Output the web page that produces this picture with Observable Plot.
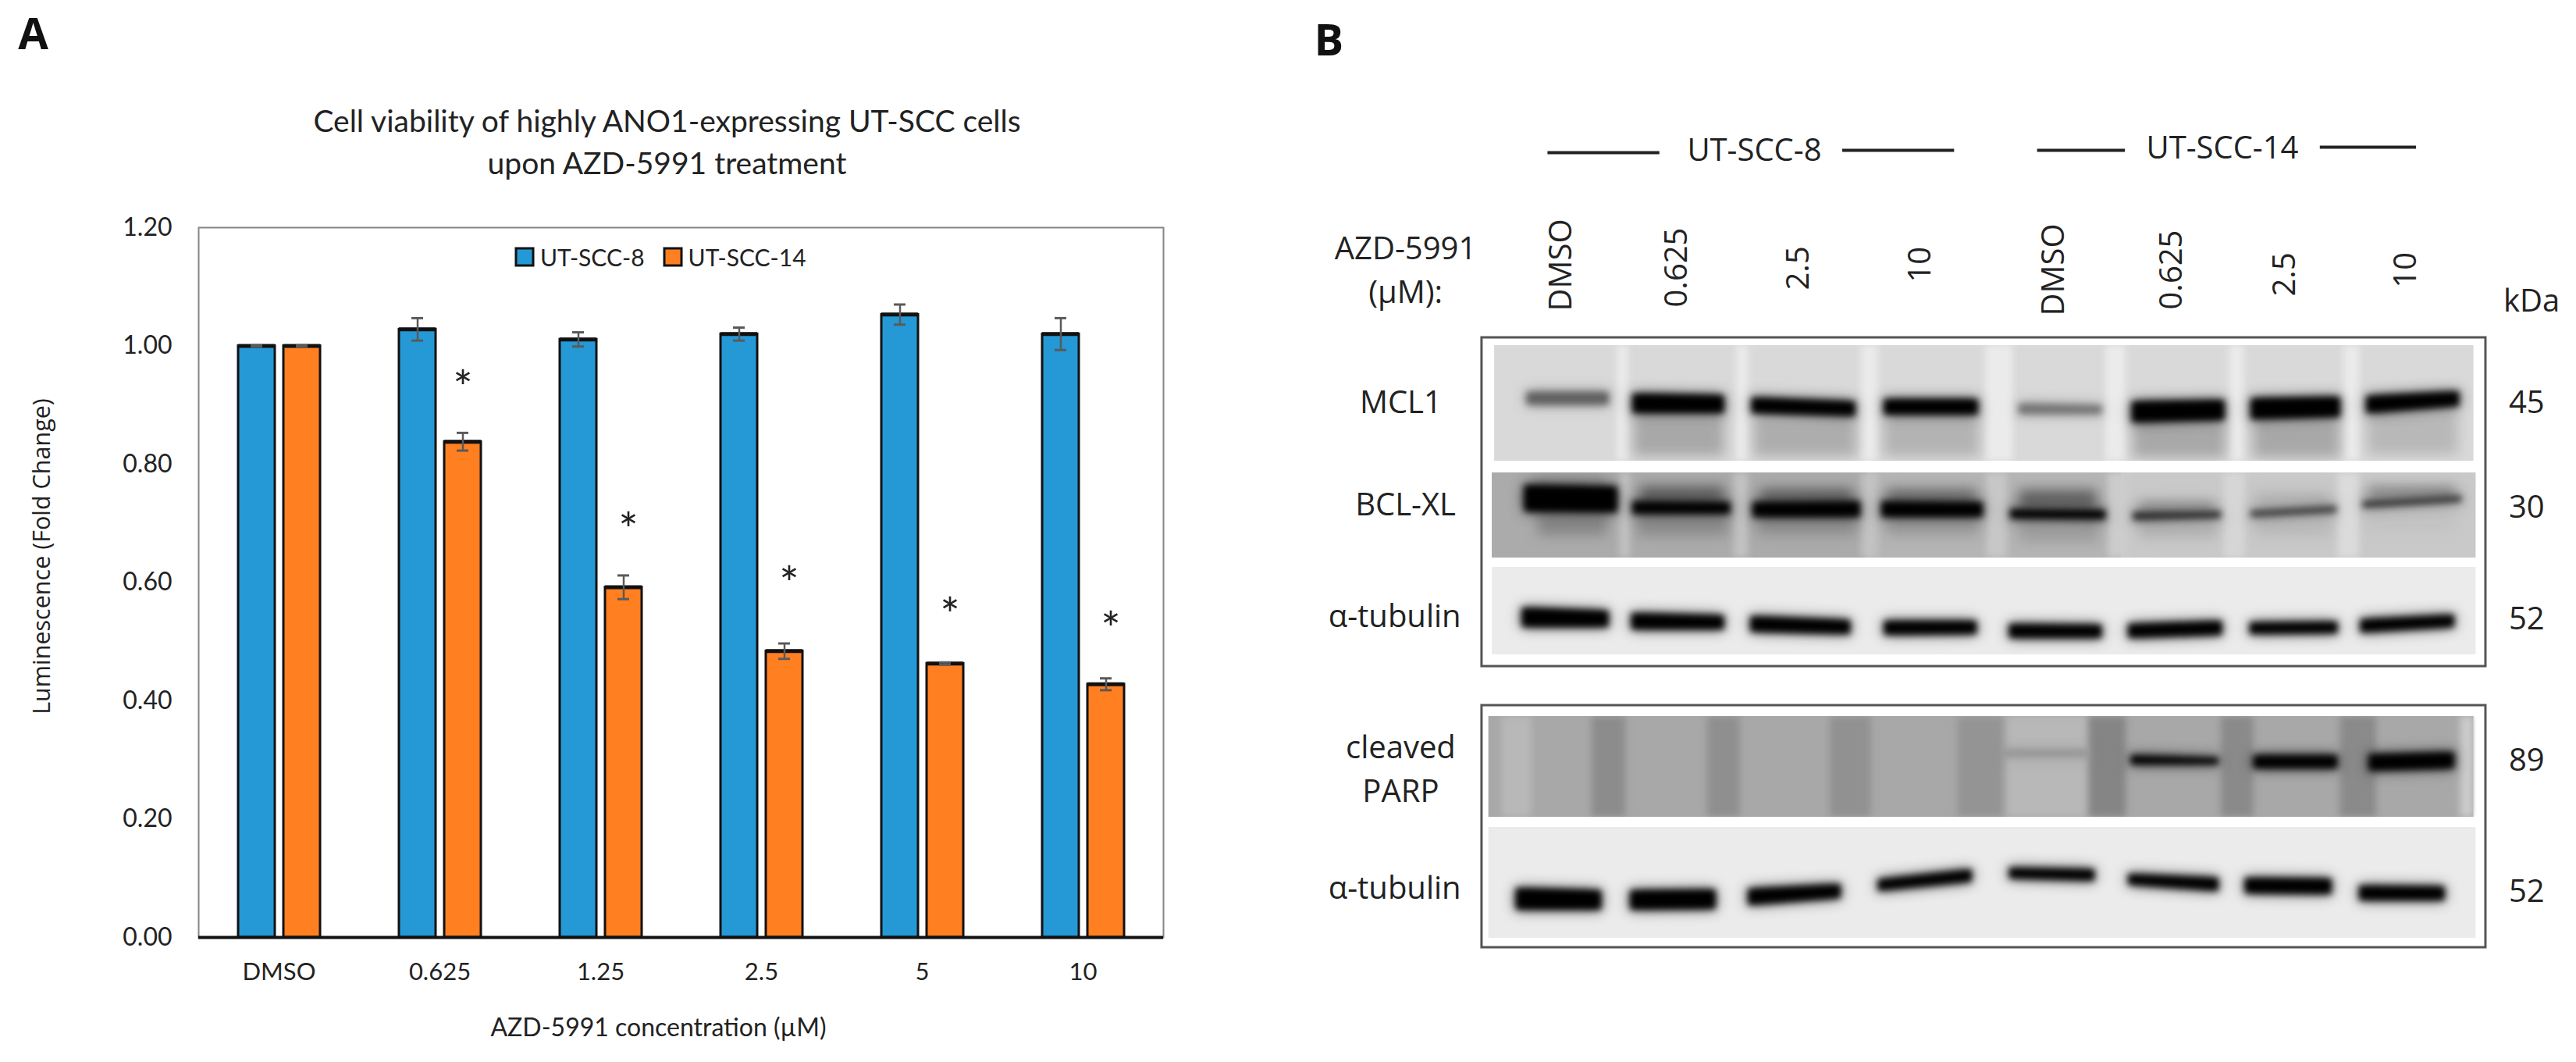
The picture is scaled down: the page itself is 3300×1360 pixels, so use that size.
<!DOCTYPE html>
<html><head><meta charset="utf-8">
<script src="https://cdn.jsdelivr.net/npm/d3@7"></script>
<script src="https://cdn.jsdelivr.net/npm/@observablehq/plot@0.6"></script>
<style>
html,body{margin:0;padding:0;background:#fff;width:3300px;height:1360px;overflow:hidden}
#a,#b,#leg{position:absolute;top:0}
#a{left:0}#b{left:1650px}
#leg{left:661px;top:311px}
#leg svg rect{stroke:#111;stroke-width:3px}
#leg span{margin-right:25px !important}
#leg span svg{margin-right:9px !important}
svg{overflow:visible}
</style></head><body>
<div id="a"></div><div id="b"></div><div id="leg"></div>
<script>
// ---- Panel A values
const concentrations = ["DMSO","0.625","1.25","2.5","5","10"];
const lines = ["UT-SCC-8","UT-SCC-14"];
const scc8  = [1.00,1.028,1.011,1.02,1.053,1.02];
const scc14 = [1.00,0.838,0.592,0.484,0.463,0.428];
const err8  = [0.001,0.019,0.012,0.011,0.017,0.027];
const err14 = [0.001,0.015,0.020,0.013,0.002,0.010];
const starHeights = [null,0.941,0.700,0.609,0.557,0.533];
const yTicks = [0,0.2,0.4,0.6,0.8,1.0,1.2];
const barColours = ["#2499d6","#ff7f21"];

const bars = concentrations.flatMap((c,i)=>[
  {c,line:lines[0],v:scc8[i],e:err8[i]},
  {c,line:lines[1],v:scc14[i],e:err14[i]}
]);
const stars = concentrations.map((c,i)=>({c,line:lines[1],y:starHeights[i]})).filter(d=>d.y!=null);

const fontA = "Lato, sans-serif";
const note = (t,x,y,o={}) => Plot.text([t],{frameAnchor:"top-left",lineAnchor:"middle",dx:x-253,dy:y-291,facet:"super",fontFamily:fontA,fontSize:31,fill:"#222",...o});

const chart = Plot.plot({
  width:1650,height:1360,marginLeft:253,marginRight:159,marginTop:291,marginBottom:160,
  style:{background:"transparent"},
  fx:{domain:concentrations,padding:0},
  x:{domain:lines,paddingInner:0.19,paddingOuter:0.86,axis:null},
  y:{domain:[0,1.2]},
  color:{domain:lines,range:barColours},
  marks:[
    Plot.barY(bars,{fx:"c",x:"line",y:"v",fill:"line",stroke:"#111",strokeWidth:3}),
    Plot.tickY(bars,{fx:"c",x:"line",y:"v",stroke:"#111",strokeWidth:5}),
    Plot.ruleX(bars,{fx:"c",x:"line",y1:d=>d.v-d.e,y2:d=>d.v+d.e,stroke:"#5a5a5a",strokeWidth:2.5}),
    Plot.tickY(bars,{fx:"c",x:"line",y:d=>d.v+d.e,stroke:"#5a5a5a",strokeWidth:3,insetLeft:16,insetRight:16}),
    Plot.tickY(bars,{fx:"c",x:"line",y:d=>d.v-d.e,stroke:"#5a5a5a",strokeWidth:3,insetLeft:16,insetRight:16}),
    Plot.text(stars.slice(0,1),{fx:"c",x:"line",y:"y",text:()=>"*",fontFamily:fontA,fontSize:60,dy:11,fill:"#222"}),
    Plot.text(stars.slice(1),{fx:"c",x:"line",y:"y",text:()=>"*",fontFamily:fontA,fontSize:60,dy:11,dx:6,fill:"#222"}),
    Plot.frame({stroke:"#858585",strokeWidth:2,facet:"super"}),
    Plot.ruleY([0],{stroke:"#111",strokeWidth:4}),
    Plot.axisY({ticks:yTicks,tickFormat:d=>d.toFixed(2),tickSize:0,tickPadding:34,label:null,fontFamily:fontA,fontSize:32,fill:"#222"}),
    Plot.axisFx({anchor:"bottom",tickSize:0,tickPadding:32,label:null,fontFamily:fontA,fontSize:31,fill:"#222"}),
    note("A",41,45,{fontFamily:"'Open Sans',sans-serif",fontWeight:700,fontSize:56,textAnchor:"middle",fill:"#111"}),
    note("Cell viability of highly ANO1-expressing UT-SCC cells",853,156,{textAnchor:"middle",fontSize:39}),
    note("upon AZD-5991 treatment",853,210,{textAnchor:"middle",fontSize:39}),
    note("Luminescence (Fold Change)",53,712,{rotate:-90,textAnchor:"middle",fontSize:30.5,fontFamily:"'Open Sans',sans-serif"}),
    note("AZD-5991 concentration (µM)",842,1316,{textAnchor:"middle",fontSize:32})
  ]
});
document.getElementById("a").append(chart);
const leg = chart.legend("color",{swatchSize:22,style:{fontFamily:fontA,fontSize:"30px",color:"#222",margin:0}});
document.getElementById("leg").append(leg);

// ---- Panel B: positions are lane numbers (x) and gel position (y); signal is 0 (white) to 1 (black)
const blots = [ // lane from, lane to, top, bottom, signal
  [0.39,8.53,44.2,59.0,0.15],
  [0.37,3.5,60.5,71.4,0.33],[3.5,5.6,60.5,71.4,0.29],[5.6,8.55,60.5,71.4,0.21],
  [0.37,8.55,72.6,83.8,0.08],
  [0.34,8.53,91.7,104.6,0.34],
  [0.34,8.55,105.9,120.1,0.08]
];
const membraneGaps = [ // white paper around the membranes
  [0.285,8.63,43.2,44.2,0],[0.285,8.63,59.0,60.5,0],[0.285,8.63,71.4,72.6,0],[0.285,8.63,83.8,85.3,0],
  [0.285,8.63,90.3,91.7,0],[0.285,8.63,104.6,105.9,0],[0.285,8.63,120.1,121.3,0],
  [0.285,0.34,90.3,121.3,0],[8.55,8.63,43.2,121.3,0],[0.285,0.37,43.2,85.3,0]
];
const smears = [
  // MCL1
  [1.55,2.30,53,58.4,0.34],[2.55,3.40,53.5,58.4,0.32],[3.63,4.42,53.2,58.4,0.30],
  [5.70,6.47,54,58.6,0.34],[6.70,7.42,53.7,58.6,0.34],[7.65,8.40,52.5,58.2,0.28],
  // BCL-XL above the bands
  [0.72,1.32,60.8,62.5,0.42],[1.60,2.30,62.2,64.4,0.62],[2.60,3.37,62.5,64.4,0.6],[3.65,4.40,62.5,64.4,0.55],[4.75,5.40,62.7,65.2,0.62],
  [5.75,6.38,64.2,65.5,0.45],[6.72,7.33,63,65,0.3],[7.65,8.38,62.2,64,0.45],
  // BCL-XL below the bands
  [0.75,1.33,65.5,68.5,0.48],[1.58,2.33,65.8,68.6,0.46],[2.58,3.40,66,68.6,0.44],[3.65,4.42,66,68.6,0.4],[4.75,5.42,66.4,69.5,0.38],
  [5.75,6.40,66.5,69,0.3],[6.72,7.35,66,68.8,0.27],[7.65,8.38,64.4,68,0.24]
];
const stripes = [
  // cleaved PARP
  [1.20,1.48,91.7,104.6,0.45],[2.16,2.43,91.7,104.6,0.44],[3.18,3.52,91.7,104.6,0.43],[4.24,4.62,91.7,104.6,0.42],
  [5.33,5.64,91.7,104.6,0.48],[6.43,6.70,91.7,104.6,0.46],[7.42,7.72,91.7,104.6,0.46],
  [4.65,5.32,91.7,104.6,0.28],[0.45,0.70,91.7,104.6,0.28],[8.42,8.53,91.7,104.6,0.2],
  // MCL1 gaps
  [1.41,1.50,44.2,59,0.08],[2.40,2.50,44.2,59,0.08],[3.44,3.58,44.2,59,0.08],[4.47,4.70,44.2,59,0.08],[5.47,5.64,44.2,59,0.08],[6.50,6.62,44.2,59,0.08],[7.45,7.58,44.2,59,0.08],
  // BCL-XL gaps
  [1.43,1.52,60.5,71.4,0.24],[2.38,2.50,60.5,71.4,0.24],[3.44,3.58,60.5,71.4,0.24],[4.48,4.65,60.5,71.4,0.22],[5.49,5.67,60.5,71.4,0.2],[6.45,6.63,60.5,71.4,0.16],[7.40,7.58,60.5,71.4,0.14]
];
const bands = [ // lane from, lane to, top-left, bottom-left, top-right, bottom-right, signal
  // MCL1
  [0.66,1.34,50.2,51.8,50.2,51.8,0.62],[1.54,2.30,50.4,52.9,50.6,52.9,1],[2.53,3.39,50.9,52.9,51.4,53.3,1],[3.63,4.41,51.1,53.1,51.1,53.1,1],
  [4.75,5.44,51.7,53.0,51.9,53.0,0.55],[5.69,6.46,51.4,54.1,51.2,53.8,1],[6.68,7.42,51.0,53.7,50.8,53.4,1],[7.64,8.41,50.7,52.9,50.1,52.0,1],
  // BCL-XL
  [0.64,1.41,62.1,65.5,62.3,65.6,1],[1.54,2.35,64.2,65.8,64.3,65.8,1],[2.54,3.43,64.3,66.2,64.2,66.2,1],[3.61,4.45,64.2,66.2,64.3,66.2,1],
  [4.68,5.47,65.2,66.4,65.3,66.5,1],[5.70,6.43,65.6,66.6,65.5,66.3,0.85],[6.68,7.39,65.4,66.2,64.8,65.6,0.78],[7.61,8.43,64.2,65.0,63.5,64.2,0.82],
  // tubulin
  [0.62,1.34,77.8,80.3,78.2,80.3,1],[1.53,2.30,78.5,80.6,78.8,80.6,1],[2.52,3.35,78.9,80.9,79.4,81.2,1],[3.63,4.40,79.5,81.3,79.5,81.2,1],
  [4.67,5.44,79.9,81.7,80.0,81.7,1],[5.66,6.44,79.9,81.7,79.5,81.3,1],[6.67,7.40,79.7,81.2,79.6,81.1,1],[7.59,8.37,79.3,81.0,78.7,80.3,1],
  // cleaved PARP
  [4.62,5.33,96.0,96.9,96.0,96.9,0.42],[5.68,6.41,96.7,97.9,97.0,97.9,1],[6.70,7.40,96.7,98.4,96.7,98.4,1],[7.66,8.37,96.6,98.7,96.3,98.4,1],
  // tubulin, second membrane
  [0.57,1.28,113.7,116.5,114.0,116.5,1],[1.52,2.23,114.0,116.5,113.9,116.4,1],[2.50,3.27,113.8,115.9,113.2,115.0,1],[3.58,4.36,112.6,114.1,111.3,112.9,1],
  [4.67,5.38,111.1,112.5,111.3,112.8,1],[5.66,6.41,111.9,113.3,112.4,114.1,1],[6.63,7.35,112.4,114.4,112.5,114.5,1],[7.58,8.29,113.4,115.3,113.5,115.3,1]
];
const boxes = [[0.285,8.63,43.2,85.3],[0.285,8.63,90.3,121.3]];
const headerRules = [
  [0.83,1.76,19.5,19.5],[3.28,4.21,19.2,19.2],[4.90,5.63,19.2,19.2],[7.25,8.05,18.8,18.8]
];
const laneLabels = ["DMSO","0.625","2.5","10","DMSO","0.625","2.5","10"];
const laneLabelX = [0.948,1.903,2.916,3.929,5.039,6.019,6.961,7.968];
const laneLabelY = [39.8,39.3,37.1,36.1,40.4,39.6,37.9,36.8];
const leftLabels = [["AZD-5991",-0.35,31.9],["(µM):",-0.35,37.5],["MCL1",-0.39,51.6],["BCL-XL",-0.35,64.7],["α-tubulin",-0.44,79.0],["cleaved",-0.39,95.8],["PARP",-0.39,101.4],["α-tubulin",-0.44,113.8]];
const rightLabels = [["kDa",9.01,38.6],["45",8.97,51.6],["30",8.97,65.0],["52",8.97,79.3],["89",8.97,97.4],["52",8.97,114.2]];
const headerLabels = [["UT-SCC-8",2.55,19.3],["UT-SCC-14",6.44,19.0]];

const bandPoints = bands.flatMap((b,id)=>[
  {id,x:b[0],t:b[2],b:b[3],s:b[6]},{id,x:b[1],t:b[4],b:b[5],s:b[6]}
]);
const rectOf = (rows,o={}) => Plot.rect(rows,{x1:d=>d[0],x2:d=>d[1],y1:d=>d[2],y2:d=>d[3],fill:d=>d[4],...o});
const fontB = "'Open Sans',sans-serif";
const tx = (rows,o={}) => Plot.text(rows,{x:d=>d[1],y:d=>d[2],text:d=>d[0],fontFamily:fontB,fontSize:40,fill:"#222",...o});

const blot = Plot.plot({
  width:1650,height:1360,marginLeft:204,marginRight:59,marginTop:0,marginBottom:0,
  style:{background:"transparent"},
  x:{domain:[0,9],axis:null},
  y:{domain:[136,0],axis:null},
  color:{type:"linear",domain:[0,1],range:["#ffffff","#000000"]},
  marks:[
    rectOf(blots),
    rectOf(stripes,{imageFilter:"blur(5px)"}),
    rectOf(smears,{imageFilter:"blur(8px)"}),
    Plot.area(bandPoints,{x1:"x",y1:"t",y2:"b",z:"id",fill:"s",fillOpacity:0.7,imageFilter:"blur(9px)"}),
    Plot.area(bandPoints,{x1:"x",y1:"t",y2:"b",z:"id",fill:"s",imageFilter:"blur(4px)"}),
    rectOf(membraneGaps),
    Plot.rect(boxes,{x1:d=>d[0],x2:d=>d[1],y1:d=>d[2],y2:d=>d[3],fill:"none",stroke:"#555",strokeWidth:3}),
    Plot.link(headerRules,{x1:d=>d[0],x2:d=>d[1],y1:d=>d[2],y2:d=>d[3],stroke:"#222",strokeWidth:4}),
    tx(headerLabels),
    tx(leftLabels),
    tx(rightLabels),
    Plot.text(laneLabels,{x:(d,i)=>laneLabelX[i],y:(d,i)=>laneLabelY[i],text:d=>d,rotate:-90,textAnchor:"start",fontFamily:fontB,fontSize:40,fill:"#222"}),
    Plot.text(["B"],{frameAnchor:"top-left",lineAnchor:"middle",dx:-171,dy:53,fontFamily:fontB,fontWeight:700,fontSize:56,fill:"#111"})
  ]
});
document.getElementById("b").append(blot);
// Plot writes imageFilter as an attribute; make the browser apply it to the band groups
blot.querySelectorAll("[image-filter]").forEach(g=>{g.style.filter=g.getAttribute("image-filter");});
blot.querySelectorAll("[filter]").forEach(g=>{g.style.filter=g.getAttribute("filter");});
</script>
</body></html>
